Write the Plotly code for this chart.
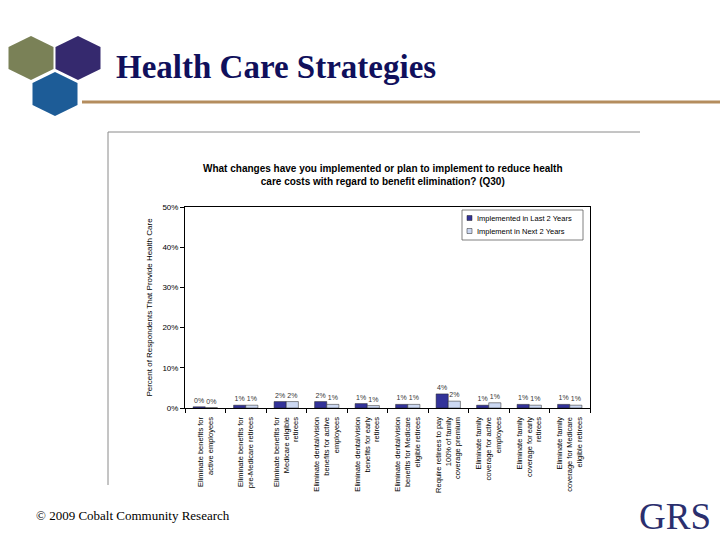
import plotly.graph_objects as go

categories = [
    "Eliminate benefits for<br>active employees",
    "Eliminate benefits for<br>pre-Medicare retirees",
    "Eliminate benefits for<br>Medicare eligible<br>retirees",
    "Eliminate dental/vision<br>benefits for active<br>employees",
    "Eliminate dental/vision<br>benefits for early<br>retirees",
    "Eliminate dental/vision<br>benefits for Medicare<br>eligible retirees",
    "Require retirees to pay<br>100% of family<br>coverage premium",
    "Eliminate family<br>coverage for active<br>employees",
    "Eliminate family<br>coverage for early<br>retirees",
    "Eliminate family<br>coverage for Medicare<br>eligible retirees",
]
implemented_last2 = [0.3, 0.7, 1.6, 1.6, 1.1, 0.9, 3.5, 0.7, 0.9, 0.9]
implement_next2 = [0.1, 0.7, 1.6, 0.9, 0.6, 0.9, 1.7, 1.3, 0.7, 0.7]
series_names = ["Implemented in Last 2 Years", "Implement in Next 2 Years"]
series_colors = ["#333399", "#CCD8F2"]
y_ticks = [0, 10, 20, 30, 40, 50]

# plot area in pixels
PL, PR, PT, PB = 185, 590, 207, 408
W, H = 720, 540


def px(x):
    return (x - PL) / (PR - PL)


def py(y):
    return (PB - y) / (PB - PT)


def hexpath(cx, cy, w, h):
    pts = [(cx, cy - h / 2), (cx + w / 2, cy - h / 4), (cx + w / 2, cy + h / 4),
           (cx, cy + h / 2), (cx - w / 2, cy + h / 4), (cx - w / 2, cy - h / 4)]
    return "M " + " L ".join(f"{px(a):.5f},{py(b):.5f}" for a, b in pts) + " Z"


fig = go.Figure()
for name, vals, col in zip(series_names, [implemented_last2, implement_next2], series_colors):
    fig.add_trace(go.Bar(
        x=categories, y=vals, name=name,
        marker=dict(color=col, line=dict(color="#222222", width=0.5)),
        texttemplate="%{y:.0f}%", textposition="outside",
        textfont=dict(size=7, color="#333333", family="Liberation Sans"),
        cliponaxis=False, showlegend=False,
    ))

shapes = []
for cx, cy, col in [(31, 58, "#7A8157"), (78, 58, "#35296E"), (55, 94, "#1D5C97")]:
    shapes.append(dict(type="path", xref="paper", yref="paper", path=hexpath(cx, cy, 45, 44),
                       fillcolor=col, line=dict(width=0), layer="above"))
shapes.append(dict(type="line", xref="paper", yref="paper", x0=px(82), x1=px(720), y0=py(102), y1=py(102),
                   line=dict(color="#B48D5E", width=3)))
shapes.append(dict(type="line", xref="paper", yref="paper", x0=px(108), x1=px(640), y0=py(132), y1=py(132),
                   line=dict(color="#8A8A8A", width=1)))
shapes.append(dict(type="line", xref="paper", yref="paper", x0=px(108), x1=px(108), y0=py(132), y1=py(485),
                   line=dict(color="#8A8A8A", width=1)))
# legend box
shapes.append(dict(type="rect", xref="paper", yref="paper", x0=px(462), x1=px(583), y0=py(210), y1=py(240),
                   line=dict(color="#555555", width=0.75), fillcolor="white", layer="above"))

annotations = [
    dict(text="<b>Health Care Strategies</b>", xref="paper", yref="paper", x=px(114), y=py(67),
         xanchor="left", yanchor="middle", showarrow=False,
         font=dict(family="Liberation Serif", size=33, color="#10105C")),
    dict(text="<b>What changes have you implemented or plan to implement to reduce health<br>care costs with regard to benefit elimination? (Q30)</b>",
         xref="paper", yref="paper", x=px(383), y=py(175), xanchor="center", yanchor="middle",
         showarrow=False, font=dict(family="Liberation Sans", size=10, color="#000000")),
    dict(text="© 2009 Cobalt Community Research", xref="paper", yref="paper", x=px(34), y=py(515),
         xanchor="left", yanchor="middle", showarrow=False,
         font=dict(family="Liberation Serif", size=13, color="#000000")),
    dict(text="GRS", xref="paper", yref="paper", x=px(713), y=py(516),
         xanchor="right", yanchor="middle", showarrow=False,
         font=dict(family="Liberation Serif", size=37, color="#2B2F6E")),
]

for i, (name, col) in enumerate(zip(series_names, series_colors)):
    yc = 218 + i * 13
    shapes.append(dict(type="rect", xref="paper", yref="paper", x0=px(467), x1=px(472),
                       y0=py(yc - 2.5), y1=py(yc + 2.5), fillcolor=col,
                       line=dict(color="#222222", width=0.5), layer="above"))
    annotations.append(dict(text=name, xref="paper", yref="paper", x=px(475), y=py(yc),
                            xanchor="left", yanchor="middle", showarrow=False,
                            font=dict(family="Liberation Sans", size=7.5, color="#000000")))

fig.update_layout(
    width=W, height=H,
    margin=dict(l=PL, r=W - PR, t=PT, b=H - PB, pad=0),
    paper_bgcolor="white", plot_bgcolor="white",
    barmode="group", bargap=0.4, bargroupgap=0,
    showlegend=False,
    shapes=shapes, annotations=annotations,
    font=dict(family="Liberation Sans", color="#000000"),
)
fig.update_xaxes(
    type="category", showline=True, linecolor="#000000", linewidth=1, mirror=True,
    ticks="outside", ticklen=4, tickcolor="#000000", tickson="boundaries",
    tickangle=-90, tickfont=dict(family="Liberation Sans", size=7.5, color="#000000"),
    ticklabelstandoff=5, showgrid=False,
)
fig.update_yaxes(
    range=[0, 50], tickvals=y_ticks, ticktext=[f"{v}%" for v in y_ticks],
    showline=True, linecolor="#000000", linewidth=1, mirror=True,
    ticks="outside", ticklen=4, tickcolor="#000000", showgrid=False, zeroline=False,
    tickfont=dict(family="Liberation Sans", size=8, color="#000000"),
    title=dict(text="Percent of Respondents That Provide Health Care", standoff=8,
               font=dict(family="Liberation Sans", size=8, color="#000000")),
)

fig.write_html("out.html", post_script="document.body.style.margin='0';",
               config={"displayModeBar": False})
